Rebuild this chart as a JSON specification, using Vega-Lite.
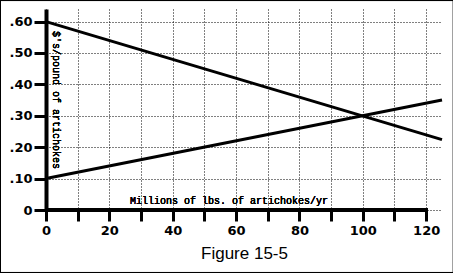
{
  "$schema": "https://vega.github.io/schema/vega-lite/v6.json",
  "width": 396,
  "height": 201,
  "autosize": "none",
  "padding": {"left": 46, "top": 9, "right": 11, "bottom": 63},
  "background": "white",
  "config": {"view": {"stroke": null}},
  "data": {"values": [
    {"series": "Demand", "q": 0, "p": 0.60},
    {"series": "Demand", "q": 125, "p": 0.224},
    {"series": "Supply", "q": 0, "p": 0.10},
    {"series": "Supply", "q": 125, "p": 0.35}
  ]},
  "encoding": {
    "x": {"field": "q", "type": "quantitative",
      "scale": {"domain": [0, 125], "nice": false, "zero": false},
      "axis": {
        "values": [0, 10, 20, 30, 40, 50, 60, 70, 80, 90, 100, 110, 120],
        "labelExpr": "datum.value % 20 == 0 ? datum.label : ''",
        "domain": false, "tickSize": 11, "tickWidth": 3, "tickColor": "black",
        "labelFont": "DejaVu Sans", "labelFontWeight": "bold", "labelFontSize": 13, "labelColor": "black",
        "labelPadding": 3, "labelFlush": false,
        "grid": true, "gridDash": [1, 2], "gridColor": "black", "gridOpacity": 1, "gridWidth": 1,
        "title": "Figure 15-5", "titleFont": "Liberation Sans", "titleFontSize": 17, "titleFontWeight": "normal",
        "titleColor": "black", "titlePadding": 8
      }},
    "y": {"field": "p", "type": "quantitative",
      "scale": {"domain": [0, 0.64], "nice": false, "zero": false},
      "axis": {
        "values": [0, 0.1, 0.2, 0.3, 0.4, 0.5, 0.6],
        "labelExpr": "datum.value == 0 ? '0' : replace(format(datum.value, '.2f'), '0.', '.')",
        "domain": true, "domainColor": "black", "domainWidth": 4,
        "tickSize": 12, "tickWidth": 3, "tickColor": "black",
        "labelFont": "DejaVu Sans", "labelFontWeight": "bold", "labelFontSize": 13, "labelColor": "black",
        "labelPadding": 2,
        "grid": true, "gridDash": [1, 2], "gridColor": "black", "gridOpacity": 1, "gridWidth": 1,
        "title": null
      }}
  },
  "layer": [
    {
      "mark": {"type": "line", "color": "black", "strokeWidth": 3},
      "encoding": {"detail": {"field": "series"}}
    },
    {
      "mark": {"type": "rule", "color": "black", "strokeWidth": 4},
      "encoding": {
        "x": {"datum": 0}, "x2": {"datum": 120.5},
        "y": {"datum": 0}
      }
    },
    {
      "mark": {"type": "text", "font": "Liberation Mono", "fontSize": 10, "align": "left", "baseline": "alphabetic", "color": "black"},
      "encoding": {
        "x": {"datum": 26.5}, "y": {"datum": 0.019},
        "text": {"value": "Millions of lbs. of artichokes/yr"}
      }
    },
    {
      "mark": {"type": "text", "font": "Liberation Mono", "fontSize": 10, "align": "left", "baseline": "alphabetic", "angle": 90, "color": "black"},
      "encoding": {
        "x": {"datum": 2.1}, "y": {"datum": 0.57},
        "text": {"value": "$'s/pound of artichokes"}
      }
    },
    {
      "mark": {"type": "rect", "fill": null, "fillOpacity": 0, "stroke": "black", "strokeWidth": 1},
      "encoding": {
        "x": {"datum": -14.4}, "x2": {"datum": 128.6},
        "y": {"datum": 0.667}, "y2": {"datum": -0.199}
      }
    }
  ]
}
